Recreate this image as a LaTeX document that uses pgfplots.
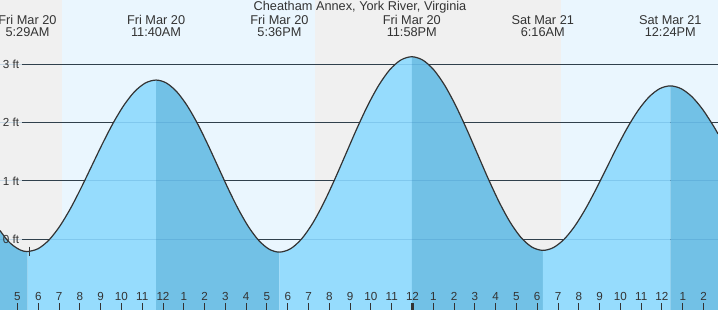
\documentclass[border=0pt]{standalone}
\usepackage{fontspec}
\setmainfont{Liberation Sans}
\usepackage{pgfplots}
\pgfplotsset{compat=1.18}
\definecolor{night}{RGB}{240,240,240}
\definecolor{day}{RGB}{234,246,254}
\definecolor{wlight}{RGB}{150,220,253}
\definecolor{wdark}{RGB}{114,193,230}
\definecolor{tc}{RGB}{51,51,51}
\definecolor{gfaint}{RGB}{40,120,180}
\newcommand{\hfont}{\fontsize{12.8}{13}\selectfont}
\newcommand{\sfont}{\fontsize{11.7}{12}\selectfont}
\def\yb{-1.2121}
\begin{document}
\begin{tikzpicture}
\begin{axis}[
  scale only axis, width=718bp, height=310bp,
  xmin=4.16, xmax=38.695, ymin=-1.2121, ymax=4.1025,
  axis x line=bottom, x axis line style={draw=none},
  hide y axis,
  axis on top,
  xtick={5,...,38},
  xticklabels={5,6,7,8,9,10,11,12,1,2,3,4,5,6,7,8,9,10,11,12,1,2,3,4,5,6,7,8,9,10,11,12,1,2},
  tick align=inside,
  major tick length=7bp,
  tick style={draw=tc, line width=1bp},
  xticklabel style={anchor=base, yshift=10bp, font=\sfont, text=tc, inner sep=0pt},
  extra x ticks={24}, extra x tick labels={},
  extra x tick style={tick style={draw=tc, line width=2.4bp}},
]
% day / night bands
\addplot[fill=night, draw=none] coordinates {(4.16,-1.2121) (4.16,4.1025) (7.142,4.1025) (7.142,-1.2121)} -- cycle;
\addplot[fill=day, draw=none] coordinates {(7.142,-1.2121) (7.142,4.1025) (19.326,4.1025) (19.326,-1.2121)} -- cycle;
\addplot[fill=night, draw=none] coordinates {(19.326,-1.2121) (19.326,4.1025) (31.144,4.1025) (31.144,-1.2121)} -- cycle;
\addplot[fill=day, draw=none] coordinates {(31.144,-1.2121) (31.144,4.1025) (38.695,4.1025) (38.695,-1.2121)} -- cycle;
% dark grid lines
\addplot[draw=tc, line width=1bp] coordinates {(5.218,3) (38.695,3)};
\addplot[draw=tc, line width=1bp] coordinates {(5.218,2) (38.695,2)};
\addplot[draw=tc, line width=1bp] coordinates {(5.218,1) (38.695,1)};
\addplot[draw=tc, line width=1bp] coordinates {(5.218,0) (38.695,0)};
% water, one half-cycle per area
\addplot[fill=wdark, draw=none, smooth] coordinates {(4.16,0.15) (4.5,-0.01) (4.8,-0.11) (5.15,-0.185) (5.483,-0.21)} -- (axis cs:5.483,\yb) -- (axis cs:4.16,\yb) -- cycle;
\addplot[fill=wlight, draw=none, smooth] coordinates {(5.483,-0.21) (5.998,-0.160) (6.514,-0.013) (7.029,0.221) (7.545,0.525) (8.060,0.880) (8.575,1.26) (9.090,1.640) (9.606,1.995) (10.121,2.299) (10.636,2.533) (11.152,2.680) (11.667,2.73)} -- (axis cs:11.667,\yb) -- (axis cs:5.483,\yb) -- cycle;
\addplot[fill=wdark, draw=none, smooth] coordinates {(11.667,2.73) (12.161,2.680) (12.656,2.532) (13.150,2.298) (13.645,1.993) (14.139,1.637) (14.634,1.255) (15.128,0.873) (15.622,0.518) (16.117,0.212) (16.611,-0.022) (17.106,-0.170) (17.6,-0.22)} -- (axis cs:17.6,\yb) -- (axis cs:11.667,\yb) -- cycle;
\addplot[fill=wlight, draw=none, smooth] coordinates {(17.6,-0.22) (18.131,-0.163) (18.661,0.004) (19.192,0.271) (19.722,0.618) (20.253,1.022) (20.784,1.455) (21.314,1.889) (21.845,2.293) (22.375,2.639) (22.906,2.906) (23.436,3.073) (23.967,3.13)} -- (axis cs:23.967,\yb) -- (axis cs:17.6,\yb) -- cycle;
\addplot[fill=wdark, draw=none, smooth] coordinates {(23.967,3.13) (24.492,3.073) (25.017,2.908) (25.542,2.644) (26.067,2.30) (26.592,1.900) (27.117,1.47) (27.642,1.040) (28.167,0.64) (28.692,0.296) (29.217,0.032) (29.742,-0.133) (30.267,-0.19)} -- (axis cs:30.267,\yb) -- (axis cs:23.967,\yb) -- cycle;
\addplot[fill=wlight, draw=none, smooth] coordinates {(30.267,-0.19) (30.778,-0.142) (31.289,-0.001) (31.800,0.223) (32.311,0.515) (32.822,0.855) (33.333,1.22) (33.844,1.585) (34.356,1.925) (34.867,2.217) (35.378,2.441) (35.889,2.582) (36.4,2.63)} -- (axis cs:36.4,\yb) -- (axis cs:30.267,\yb) -- cycle;
\addplot[fill=wdark, draw=none, smooth] coordinates {(36.4,2.63) (36.917,2.583) (37.433,2.447) (37.950,2.230) (38.467,1.948) (38.695,1.807)} -- (axis cs:38.695,\yb) -- (axis cs:36.4,\yb) -- cycle;
% faint grid lines over water
\addplot[draw=gfaint, opacity=0.2, line width=1bp] coordinates {(4.16,3) (38.695,3)};
\addplot[draw=gfaint, opacity=0.2, line width=1bp] coordinates {(4.16,2) (38.695,2)};
\addplot[draw=gfaint, opacity=0.2, line width=1bp] coordinates {(4.16,1) (38.695,1)};
\addplot[draw=gfaint, opacity=0.2, line width=1bp] coordinates {(4.16,0) (38.695,0)};
% y labels
\node[anchor=base east, text=tc, font=\sfont, inner sep=0pt, yshift=-4.2bp] at (axis cs:5.088,3) {3 ft};
\node[anchor=base east, text=tc, font=\sfont, inner sep=0pt, yshift=-4.2bp] at (axis cs:5.088,2) {2 ft};
\node[anchor=base east, text=tc, font=\sfont, inner sep=0pt, yshift=-4.2bp] at (axis cs:5.088,1) {1 ft};
\node[anchor=base east, text=tc, font=\sfont, inner sep=0pt, yshift=-4.2bp] at (axis cs:5.088,0) {0 ft};
% curve line
\addplot[draw=tc, line width=1.2bp, smooth] coordinates {
(4.16,0.15) (4.5,-0.01) (4.8,-0.11) (5.15,-0.185) (5.483,-0.21)
(5.998,-0.160) (6.514,-0.013) (7.029,0.221) (7.545,0.525) (8.060,0.880) (8.575,1.26) (9.090,1.640) (9.606,1.995) (10.121,2.299) (10.636,2.533) (11.152,2.680) (11.667,2.73)
(12.161,2.680) (12.656,2.532) (13.150,2.298) (13.645,1.993) (14.139,1.637) (14.634,1.255) (15.128,0.873) (15.622,0.518) (16.117,0.212) (16.611,-0.022) (17.106,-0.170) (17.6,-0.22)
(18.131,-0.163) (18.661,0.004) (19.192,0.271) (19.722,0.618) (20.253,1.022) (20.784,1.455) (21.314,1.889) (21.845,2.293) (22.375,2.639) (22.906,2.906) (23.436,3.073) (23.967,3.13)
(24.492,3.073) (25.017,2.908) (25.542,2.644) (26.067,2.30) (26.592,1.900) (27.117,1.47) (27.642,1.040) (28.167,0.64) (28.692,0.296) (29.217,0.032) (29.742,-0.133) (30.267,-0.19)
(30.778,-0.142) (31.289,-0.001) (31.800,0.223) (32.311,0.515) (32.822,0.855) (33.333,1.22) (33.844,1.585) (34.356,1.925) (34.867,2.217) (35.378,2.441) (35.889,2.582) (36.4,2.63)
(36.917,2.583) (37.433,2.447) (37.950,2.230) (38.467,1.948) (38.695,1.807)
};
% current time marker
\addplot[draw=tc, line width=1bp] coordinates {(5.6,-0.127) (5.6,-0.281)};
% header texts
\node[anchor=base, text=tc, font=\hfont, inner sep=0pt] at (axis cs:21.476,3.914) {Cheatham Annex, York River, Virginia};
\node[anchor=base, text=tc, font=\hfont, inner sep=0pt] at (axis cs:5.483,3.691) {Fri Mar 20};
\node[anchor=base, text=tc, font=\hfont, inner sep=0pt] at (axis cs:5.483,3.485) {5:29AM};
\node[anchor=base, text=tc, font=\hfont, inner sep=0pt] at (axis cs:11.667,3.691) {Fri Mar 20};
\node[anchor=base, text=tc, font=\hfont, inner sep=0pt] at (axis cs:11.667,3.485) {11:40AM};
\node[anchor=base, text=tc, font=\hfont, inner sep=0pt] at (axis cs:17.6,3.691) {Fri Mar 20};
\node[anchor=base, text=tc, font=\hfont, inner sep=0pt] at (axis cs:17.6,3.485) {5:36PM};
\node[anchor=base, text=tc, font=\hfont, inner sep=0pt] at (axis cs:23.967,3.691) {Fri Mar 20};
\node[anchor=base, text=tc, font=\hfont, inner sep=0pt] at (axis cs:23.967,3.485) {11:58PM};
\node[anchor=base, text=tc, font=\hfont, inner sep=0pt] at (axis cs:30.267,3.691) {Sat Mar 21};
\node[anchor=base, text=tc, font=\hfont, inner sep=0pt] at (axis cs:30.267,3.485) {6:16AM};
\node[anchor=base, text=tc, font=\hfont, inner sep=0pt] at (axis cs:36.4,3.691) {Sat Mar 21};
\node[anchor=base, text=tc, font=\hfont, inner sep=0pt] at (axis cs:36.4,3.485) {12:24PM};
\end{axis}
\pgfresetboundingbox
\useasboundingbox (current axis.south west) rectangle (current axis.north east);
\end{tikzpicture}
\end{document}
